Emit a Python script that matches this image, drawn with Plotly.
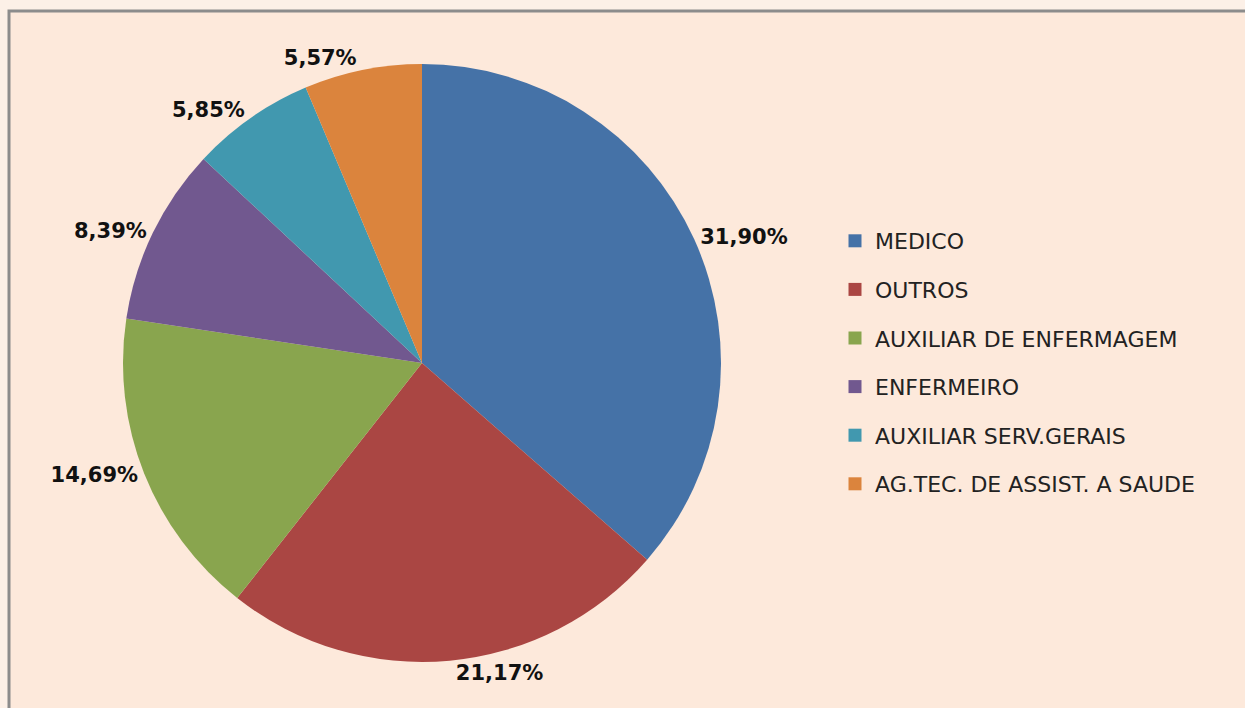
import plotly.graph_objects as go

categories = ["MEDICO", "OUTROS", "AUXILIAR DE ENFERMAGEM", "ENFERMEIRO",
              "AUXILIAR SERV.GERAIS", "AG.TEC. DE ASSIST. A SAUDE"]
values = [31.90, 21.17, 14.69, 8.39, 5.85, 5.57]
value_labels = ["31,90%", "21,17%", "14,69%", "8,39%", "5,85%", "5,57%"]
colors = ["#4572A7", "#AA4643", "#89A54E", "#71588F", "#4198AF", "#DB843D"]

W, H = 1245, 708
fig = go.Figure()

fig.add_trace(go.Pie(
    labels=categories,
    values=values,
    text=value_labels,
    textinfo="text",
    textposition="outside",
    sort=False,
    direction="clockwise",
    rotation=0,
    marker=dict(colors=colors, line=dict(width=0)),
    outsidetextfont=dict(family="DejaVu Sans", size=21, color="#111111", weight="bold"),
    showlegend=False,
    hoverinfo="label+text",
    domain=dict(x=[123 / W, 721 / W], y=[(H - 662) / H, (H - 64) / H]),
))

# legend entries (one per category, native legend with gaps)
for i, (cat, col) in enumerate(zip(categories, colors)):
    fig.add_trace(go.Scatter(
        x=[None], y=[None], mode="markers", name=cat,
        marker=dict(symbol="square", size=13, color=col),
        legendgroup=f"g{i}", showlegend=True, hoverinfo="skip",
    ))

fig.update_layout(
    width=W, height=H,
    margin=dict(l=0, r=0, t=0, b=0),
    paper_bgcolor="#FCF0E7",
    plot_bgcolor="rgba(0,0,0,0)",
    xaxis=dict(visible=False),
    yaxis=dict(visible=False),
    legend=dict(
        x=835 / W, y=1 - 220 / H, xanchor="left", yanchor="top",
        font=dict(family="DejaVu Sans", size=22, color="#222222"),
        tracegroupgap=17, bgcolor="rgba(0,0,0,0)", itemwidth=30,
    ),
    shapes=[dict(
        type="rect", xref="paper", yref="paper",
        x0=9 / W, x1=1.05, y0=-0.05, y1=1 - 11 / H,
        fillcolor="#FDE9DB", line=dict(color="#8C8C8C", width=3), layer="below",
    )],
)

fig.write_html(
    "out.html",
    config={"displayModeBar": False},
    post_script="document.body.style.margin='0';document.body.style.overflow='hidden';",
)
